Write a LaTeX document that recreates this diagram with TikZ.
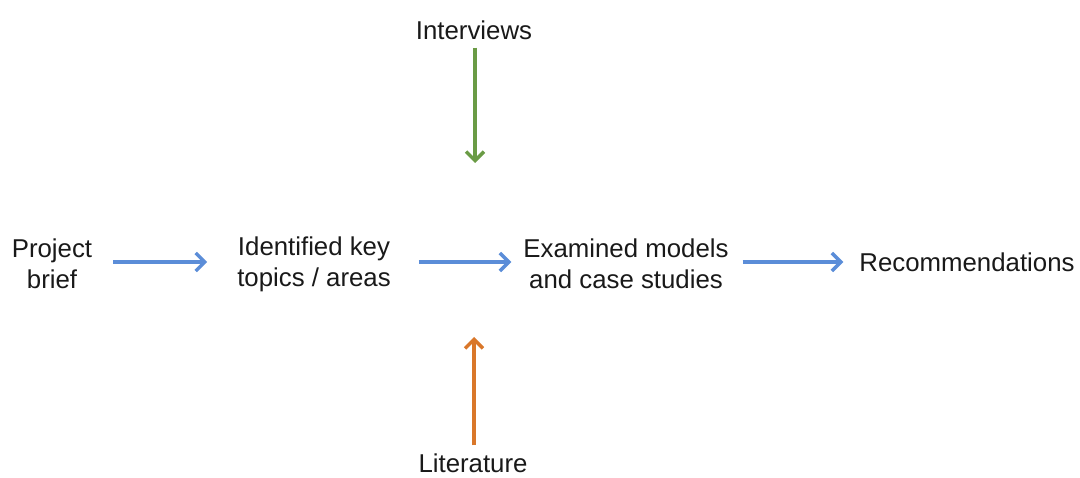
\documentclass[tikz,border=0pt]{standalone}
\usepackage{fontspec}
\setmainfont{Liberation Sans}
\usetikzlibrary{arrows.meta}
\definecolor{flowblue}{HTML}{5B8DD8}
\definecolor{flowgreen}{HTML}{6A9B45}
\definecolor{floworange}{HTML}{D9772A}
\begin{document}
\begin{tikzpicture}[x=1pt,y=-1pt,
  label/.style={font=\fontsize{25.8}{31}\selectfont, align=center, inner sep=0pt, text=black!90},
  flow/.style={line width=3.2pt, -{Straight Barb[length=9pt,width=18pt,line width=3.4pt]}},
]
\useasboundingbox (0,0) rectangle (1080,478);

% stages of the process
\node[label] (pb)  at (52,264)  {Project\\brief};
\node[label] (idk) at (314,264) {Identified key\\topics / areas};
\node[label] (ex)  at (626,264) {Examined models\\and case studies};
\node[label] (rec) at (967,262) {Recommendations};

% inputs from above and below
\node[label] (iv)  at (474,30)  {Interviews};
\node[label] (lit) at (473,463) {Literature};
\coordinate (ivend)  at (475,163);
\coordinate (litend) at (474,337);
\coordinate (pbout)  at (pb.east |- rec.center);
\coordinate (idkin)  at (idk.west |- rec.center);
\coordinate (idkout) at (idk.east |- rec.center);
\coordinate (exin)   at (ex.west |- rec.center);
\coordinate (exout)  at (ex.east |- rec.center);

\draw[flow, flowblue, shorten <=21pt, shorten >=30pt] (pbout) -- (idkin);
\draw[flow, flowblue, shorten <=28pt, shorten >=12pt] (idkout) -- (exin);
\draw[flow, flowblue, shorten <=14pt, shorten >=16pt] (exout) -- (rec.west);
\draw[flow, flowgreen, shorten <=8pt] (iv.south -| ivend) -- (ivend);
\draw[flow, floworange, shorten <=8pt] (lit.north -| litend) -- (litend);
\end{tikzpicture}
\end{document}
